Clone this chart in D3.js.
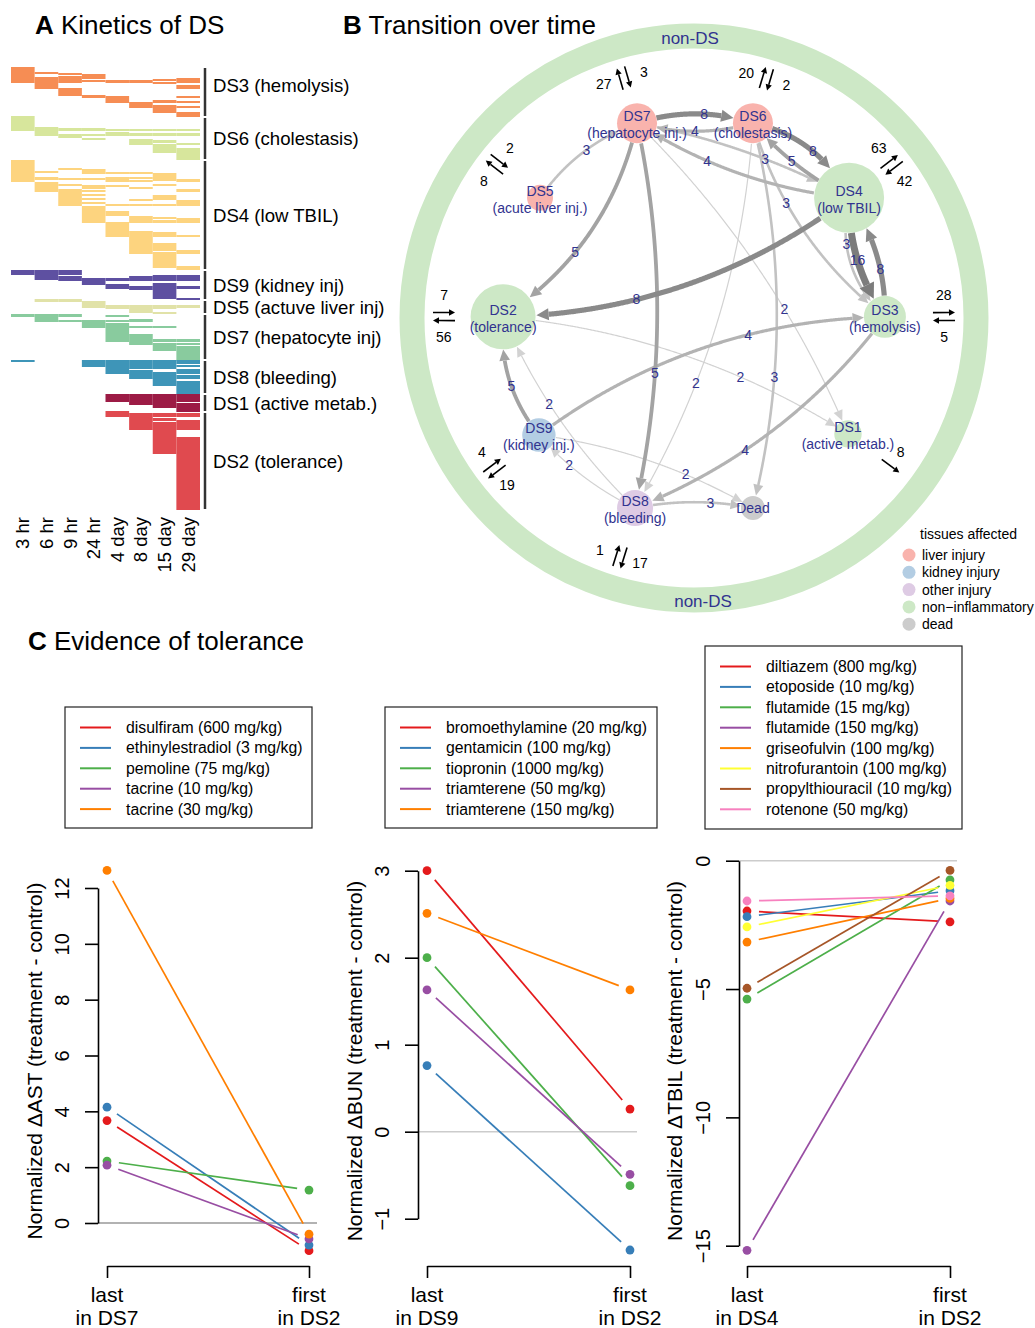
<!DOCTYPE html>
<html>
<head>
<meta charset="utf-8">
<script src="https://cdn.jsdelivr.net/npm/d3@7"></script>
<style>
  body { margin: 0; background: #fff; }
  svg { display: block; font-family: "Liberation Sans", Arial, Helvetica, sans-serif; }
</style>
</head>
<body>
<svg id="fig" width="1035" height="1328"></svg>
<script>
// ---------- A: kinetics of DS ----------
const timePoints = ["3 hr", "6 hr", "9 hr", "24 hr", "4 day", "8 day", "15 day", "29 day"];
const dsGroups = ["DS3", "DS6", "DS4", "DS9", "DS5", "DS7", "DS8", "DS1", "DS2"];
const dsGroupLabels = ["DS3 (hemolysis)", "DS6 (cholestasis)", "DS4 (low TBIL)", "DS9 (kidney inj)",
  "DS5 (actuve liver inj)", "DS7 (hepatocyte inj)", "DS8 (bleeding)", "DS1 (active metab.)", "DS2 (tolerance)"];
const dsGroupRows = [[0, 50], [50, 93], [93, 203], [203, 233], [233, 247], [247, 293], [293, 327], [327, 345], [345, 443]];
const dsColors = ["#f68d54", "#d7e69c", "#fdd47f", "#5e50a1", "#e1e2a8", "#89cb9e", "#3e95b8", "#9c1b45", "#e04a4f"];

// [time index, first row, last row] of the treatments sitting in each state
const cellsDS3 = [[0,0,16],[1,5,7],[1,10,22],[2,6,8],[2,9,16],[2,21,29],[3,7,12],[3,13,15],[3,28,31],[4,13,16],[4,29,36],
  [5,13,16],[5,35,41],[6,12,14],[6,15,17],[6,33,36],[6,38,46],[7,11,16],[7,18,22],[7,29,31],[7,34,36],[7,39,41],[7,45,50]];
const cellsDS6 = [[0,49,64],[1,60,69],[2,61,64],[2,67,71],[3,61,64],[3,67,69],[3,71,73],[4,62,64],[4,65,69],[5,62,64],[5,66,69],
  [5,72,78],[6,62,64],[6,66,69],[6,73,76],[6,77,86],[7,62,64],[7,66,69],[7,76,78],[7,81,93]];
const cellsDS4 = [[0,93,115],[1,104,106],[1,110,113],[1,115,125],[2,101,103],[2,111,113],[2,117,119],[2,122,139],
  [3,102,107],[3,111,113],[3,118,122],[3,123,125],[3,127,129],[3,131,133],[3,135,137],[3,139,156],
  [4,105,107],[4,110,115],[4,118,120],[4,137,139],[4,144,149],[4,155,170],
  [5,105,107],[5,110,112],[5,113,115],[5,120,122],[5,132,134],[5,137,139],[5,149,156],[5,164,187],
  [6,106,114],[6,117,119],[6,128,133],[6,137,139],[6,150,152],[6,153,156],[6,165,170],[6,176,184],[6,185,201],
  [7,112,115],[7,122,125],[7,133,139],[7,151,156],[7,168,170],[7,183,187],[7,199,203]];
const cellsDS9 = [[0,203,208],[1,203,213],[2,203,208],[2,209,214],[3,211,218],[4,211,214],[4,217,222],[5,209,214],
  [5,219,223],[6,208,214],[6,216,232],[7,208,214],[7,219,222],[7,231,233]];
const cellsDS5 = [[1,232,235],[2,232,235],[3,234,241],[4,238,242],[5,238,242],[5,242,246],[6,238,242],[6,245,247],[7,238,241]];
const cellsDS7 = [[0,247,250],[1,247,255],[2,247,250],[2,253,255],[3,253,261],[4,248,250],[4,253,255],[4,256,275],
  [5,252,255],[5,259,261],[5,267,278],[6,259,261],[6,272,275],[6,276,284],[7,272,275],[7,276,278],[7,279,294]];
const cellsDS8 = [[0,293,295],[3,293,300],[4,293,307],[5,293,302],[5,303,312],[6,293,302],[6,305,319],
  [7,293,297],[7,298,300],[7,302,307],[7,308,312],[7,314,328]];
const cellsDS1 = [[4,327,335],[5,327,338],[6,327,341],[7,327,335],[7,336,345]];
const cellsDS2 = [[4,344,350],[5,346,363],[6,346,350],[6,351,354],[6,355,387],[7,346,350],[7,353,363],[7,370,443]];

// ---------- B: transition network ----------
const nodeNames = ["DS7", "DS6", "DS5", "DS4", "DS2", "DS3", "DS9", "DS1", "DS8", "Dead"];
const nodeSubtitles = ["(hepatocyte inj.)", "(cholestasis)", "(acute liver inj.)", "(low TBIL)", "(tolerance)",
  "(hemolysis)", "(kidney inj.)", "(active metab.)", "(bleeding)", ""];
const nodeTissue = [0, 0, 0, 3, 3, 3, 1, 3, 2, 4];
const nodeX = [-0.202, 0.209, -0.546, 0.55, -0.677, 0.677, -0.55, 0.546, -0.209, 0.209];
const nodeY = [-0.691, -0.691, -0.426, -0.426, -0.004, -0.004, 0.415, 0.411, 0.674, 0.674];
const nodeSize = [20, 20, 13, 35, 32.5, 21, 16.7, 13.7, 18, 12];

const transitions = [
  ["DS7", "DS6", 8], ["DS6", "DS7", 4], ["DS4", "DS7", 4], ["DS7", "DS4", 3],
  ["DS6", "DS4", 8], ["DS4", "DS6", 5], ["DS6", "DS3", 3], ["DS4", "DS3", 16],
  ["DS3", "DS4", 8], ["DS4", "DS3", 3], ["DS5", "DS7", 3], ["DS7", "DS2", 5],
  ["DS4", "DS2", 8], ["DS7", "DS8", 5], ["DS7", "DS1", 2], ["DS6", "DS8", 2],
  ["DS6", "Dead", 3], ["DS2", "DS1", 2], ["DS9", "DS3", 4], ["DS3", "DS8", 4],
  ["DS9", "DS2", 5], ["DS8", "DS2", 2], ["DS8", "DS9", 2], ["DS9", "Dead", 2], ["DS8", "Dead", 3]
];
const edgeBend = [-0.08, -0.07, -0.06, -0.04, -0.12, -0.05, 0.08, 0.08, 0.08, 0.14, -0.08, -0.1,
  -0.08, -0.055, -0.05, -0.06, -0.062, -0.06, -0.08, -0.07, -0.1, -0.05, -0.05, -0.05, -0.05];
const edgeLabelT = [0.58, 0.5, 0.65, 0.59, 0.53, 0.56, 0.36, 0.5, 0.38, 0.35, 0.54, 0.6,
  0.64, 0.65, 0.63, 0.66, 0.66, 0.67, 0.63, 0.61, 0.44, 0.58, 0.65, 0.67, 0.64];

// exchanges with the non-DS ring: out = to non-DS, in = from non-DS
const flowNodes = ["DS7", "DS6", "DS5", "DS4", "DS2", "DS3", "DS9", "DS8", "DS1"];
const flowOut = [27, 20, 8, 63, 56, 28, 19, 17, 8];
const flowIn = [3, 2, 2, 42, 7, 5, 4, 1, null];

const tissueNames = ["liver injury", "kidney injury", "other injury", "non\u2212inflammatory", "dead"];
const tissueColors = ["#f9b3ad", "#b3cde3", "#decbe4", "#cde8c6", "#cccccc"];

// ---------- C: evidence of tolerance ----------
const seriesColors = ["#e41a1c", "#377eb8", "#4daf4a", "#984ea3", "#ff7f00", "#ffff33", "#a65628", "#f781bf"];
const astDrugs = ["disulfiram (600 mg/kg)", "ethinylestradiol (3 mg/kg)", "pemoline (75 mg/kg)", "tacrine (10 mg/kg)", "tacrine (30 mg/kg)"];
const astLast = [3.67, 4.15, 2.22, 2.07, 12.63];
const astFirst = [-0.99, -0.79, 1.18, -0.57, -0.4];
const bunDrugs = ["bromoethylamine (20 mg/kg)", "gentamicin (100 mg/kg)", "tiopronin (1000 mg/kg)", "triamterene (50 mg/kg)", "triamterene (150 mg/kg)"];
const bunLast = [3.0, 0.76, 2.0, 1.63, 2.51];
const bunFirst = [0.26, -1.36, -0.62, -0.49, 1.63];
const tbilDrugs = ["diltiazem (800 mg/kg)", "etoposide (10 mg/kg)", "flutamide (15 mg/kg)", "flutamide (150 mg/kg)",
  "griseofulvin (100 mg/kg)", "nitrofurantoin (100 mg/kg)", "propylthiouracil (10 mg/kg)", "rotenone (50 mg/kg)"];
const tbilLast = [-1.96, -2.18, -5.39, -15.18, -3.17, -2.58, -4.97, -1.57];
const tbilFirst = [-2.38, -1.17, -0.75, -1.57, -1.47, -0.96, -0.38, -1.37];

const svg = d3.select("#fig");
const navy = "#31338f";

function panelTitle(x, y, letter, text) {
  const t = svg.append("text").attr("x", x).attr("y", y).attr("font-size", 26);
  t.append("tspan").attr("font-weight", "bold").text(letter);
  t.append("tspan").text(" " + text);
}
panelTitle(35, 34, "A", "Kinetics of DS");
panelTitle(343, 34, "B", "Transition over time");
panelTitle(28, 650, "C", "Evidence of tolerance");

// ===== panel A =====
const xA = d3.scaleBand().domain(timePoints).range([11, 200]);
const yA = d3.scaleLinear().domain([0, 443]).range([67, 510]);
const cellSets = [cellsDS3, cellsDS6, cellsDS4, cellsDS9, cellsDS5, cellsDS7, cellsDS8, cellsDS1, cellsDS2];

const gA = svg.append("g");
cellSets.forEach((cells, gi) => {
  gA.append("g").selectAll("rect").data(cells).join("rect")
    .attr("x", d => xA(timePoints[d[0]]))
    .attr("y", d => yA(d[1]))
    .attr("width", xA.bandwidth())
    .attr("height", d => yA(d[2]) - yA(d[1]))
    .attr("fill", dsColors[gi]);
});

gA.append("g").selectAll("line").data(dsGroupRows).join("line")
  .attr("x1", 205).attr("x2", 205)
  .attr("y1", d => yA(d[0]) + 1).attr("y2", d => yA(d[1]) - 1)
  .attr("stroke", "#333").attr("stroke-width", 2.5);

gA.append("g").selectAll("text").data(dsGroupLabels).join("text")
  .attr("x", 213)
  .attr("y", (d, i) => i === 0 ? 85 : (yA(dsGroupRows[i][0]) + yA(dsGroupRows[i][1])) / 2)
  .attr("dy", "0.35em").attr("font-size", 18.6).text(d => d);

gA.append("g").selectAll("text").data(timePoints).join("text")
  .attr("transform", d => `translate(${xA(d) + xA.bandwidth() / 2},517) rotate(-90)`)
  .attr("dy", "0.35em").attr("text-anchor", "end").attr("font-size", 18.5).text(d => d);

// ===== panel B =====
const bx = d3.scaleLinear().domain([-1, 1]).range([412, 976]);
const by = d3.scaleLinear().domain([-1, 1]).range([36, 600]);
const ringR = bx(1) - bx(0);
const cx0 = bx(0), cy0 = by(0);

const gB = svg.append("g");
gB.append("circle").attr("cx", cx0).attr("cy", cy0).attr("r", ringR)
  .attr("fill", "none").attr("stroke", tissueColors[3]).attr("stroke-width", 25);
gB.append("text").attr("x", 690).attr("y", 38).attr("dy", "0.35em").attr("text-anchor", "middle")
  .attr("font-size", 17).attr("fill", navy).text("non-DS");
gB.append("text").attr("x", 703).attr("y", 601).attr("dy", "0.35em").attr("text-anchor", "middle")
  .attr("font-size", 17).attr("fill", navy).text("non-DS");

const nodes = nodeNames.map((n, i) => ({
  name: n, sub: nodeSubtitles[i], x: bx(nodeX[i]), y: by(nodeY[i]), r: nodeSize[i], fill: tissueColors[nodeTissue[i]]
}));
const nodeByName = new Map(nodes.map(n => [n.name, n]));

const edgeWidth = d3.scaleLinear().domain([2, 3, 5, 8, 16]).range([1.2, 2.6, 3.8, 5.2, 7]);
const edgeColor = d3.scaleLinear().domain([2, 3, 5, 8, 16]).range(["#d2d2d2", "#c2c2c2", "#a3a3a3", "#8a8a8a", "#7c7c7c"]);

function edgeGeom(s, t, bend, w, lt) {
  const dx = t.x - s.x, dy = t.y - s.y, L = Math.hypot(dx, dy);
  const nx = -dy / L, ny = dx / L;
  const qx = (s.x + t.x) / 2 + 2 * bend * L * nx, qy = (s.y + t.y) / 2 + 2 * bend * L * ny;
  const at = u => [(1 - u) * (1 - u) * s.x + 2 * (1 - u) * u * qx + u * u * t.x,
                   (1 - u) * (1 - u) * s.y + 2 * (1 - u) * u * qy + u * u * t.y];
  const pts = d3.range(0, 401).map(i => at(i / 400));
  let i0 = 0, i1 = pts.length - 1;
  while (i0 < i1 && Math.hypot(pts[i0][0] - s.x, pts[i0][1] - s.y) < s.r) i0++;
  while (i1 > i0 && Math.hypot(pts[i1][0] - t.x, pts[i1][1] - t.y) < t.r) i1--;
  const tip = pts[i1];
  const aLen = 9 + 0.4 * w, aHalf = 4 + 0.25 * w;
  let ib = i1;
  while (ib > i0 && Math.hypot(pts[ib][0] - tip[0], pts[ib][1] - tip[1]) < aLen) ib--;
  const base = pts[ib];
  const ux = (tip[0] - base[0]) / aLen, uy = (tip[1] - base[1]) / aLen;
  const head = [tip, [base[0] - uy * aHalf, base[1] + ux * aHalf], [base[0] + uy * aHalf, base[1] - ux * aHalf]];
  return { line: pts.slice(i0, ib + 1), head, label: at(lt) };
}

const edges = transitions.map((d, i) => {
  const s = nodeByName.get(d[0]), t = nodeByName.get(d[1]);
  return { w: d[2], geom: edgeGeom(s, t, edgeBend[i], d[2], edgeLabelT[i]) };
}).sort((a, b) => a.w - b.w);

const lineGen = d3.line();
const gE = gB.append("g");
edges.forEach(e => {
  gE.append("path").attr("d", lineGen(e.geom.line)).attr("fill", "none")
    .attr("stroke", edgeColor(e.w)).attr("stroke-width", edgeWidth(e.w));
  gE.append("path").attr("d", "M" + e.geom.head.join("L") + "Z").attr("fill", edgeColor(e.w));
});

gB.append("g").selectAll("circle").data(nodes).join("circle")
  .attr("cx", d => d.x).attr("cy", d => d.y).attr("r", d => d.r).attr("fill", d => d.fill);

gB.append("g").selectAll("text").data(edges).join("text")
  .attr("x", d => d.geom.label[0]).attr("y", d => d.geom.label[1])
  .attr("dy", "0.35em").attr("text-anchor", "middle").attr("font-size", 14).attr("fill", navy)
  .text(d => d.w);

const gN = gB.append("g").attr("font-size", 14).attr("fill", navy).attr("text-anchor", "middle");
nodes.forEach(n => {
  if (n.sub) {
    gN.append("text").attr("x", n.x).attr("y", n.y - 7).attr("dy", "0.35em").text(n.name);
    gN.append("text").attr("x", n.x).attr("y", n.y + 10).attr("dy", "0.35em").text(n.sub);
  } else {
    gN.append("text").attr("x", n.x).attr("y", n.y).attr("dy", "0.35em").text(n.name);
  }
});

// small black arrows to / from the ring
const gF = gB.append("g");
function blackArrow(x1, y1, x2, y2) {
  const L = Math.hypot(x2 - x1, y2 - y1), ux = (x2 - x1) / L, uy = (y2 - y1) / L;
  const bxp = x2 - ux * 6, byp = y2 - uy * 6;
  gF.append("line").attr("x1", x1).attr("y1", y1).attr("x2", bxp).attr("y2", byp)
    .attr("stroke", "#000").attr("stroke-width", 1.6);
  gF.append("path").attr("d", `M${x2},${y2}L${bxp - uy * 3.2},${byp + ux * 3.2}L${bxp + uy * 3.2},${byp - ux * 3.2}Z`)
    .attr("fill", "#000");
}
flowNodes.forEach((name, i) => {
  const n = nodeByName.get(name);
  const L = Math.hypot(n.x - cx0, n.y - cy0);
  const ux = (n.x - cx0) / L, uy = (n.y - cy0) / L;
  const px = uy, py = -ux;
  const single = flowIn[i] === null;
  const rr = single ? 246 : 250;
  const mx = cx0 + ux * rr, my = cy0 + uy * rr;
  const off = single ? 0 : 4;
  const ox = mx + px * off, oy = my + py * off;
  blackArrow(ox - ux * 11, oy - uy * 11, ox + ux * 11, oy + uy * 11);
  gF.append("text").attr("x", mx + px * (single ? 17 : 21)).attr("y", my + py * (single ? 17 : 21))
    .attr("dy", "0.35em").attr("text-anchor", "middle").attr("font-size", 14).text(flowOut[i]);
  if (!single) {
    const ix = mx - px * off, iy = my - py * off;
    blackArrow(ix + ux * 11, iy + uy * 11, ix - ux * 11, iy - uy * 11);
    gF.append("text").attr("x", mx - px * 21).attr("y", my - py * 21)
      .attr("dy", "0.35em").attr("text-anchor", "middle").attr("font-size", 14).text(flowIn[i]);
  }
});

// legend for tissues
const gL = gB.append("g").attr("font-size", 14);
gL.append("text").attr("x", 920).attr("y", 534).attr("dy", "0.35em").text("tissues affected");
tissueNames.forEach((t, i) => {
  gL.append("circle").attr("cx", 909).attr("cy", 555 + i * 17.3).attr("r", 6.5).attr("fill", tissueColors[i]);
  gL.append("text").attr("x", 922).attr("y", 555 + i * 17.3).attr("dy", "0.35em").text(t);
});

// ===== panel C =====
function slopePlot(p) {
  const x = d3.scaleLinear().domain([1, 2]).range(p.xr);
  const y = d3.scaleLinear().domain(p.yd).range(p.yr);
  const g = svg.append("g");

  // legend
  const lg = g.append("g").attr("font-size", 15.8);
  lg.append("rect").attr("x", p.box[0]).attr("y", p.box[1]).attr("width", p.box[2]).attr("height", p.box[3])
    .attr("fill", "none").attr("stroke", "#222").attr("stroke-width", 1.2);
  p.names.forEach((nm, i) => {
    const yy = p.box[1] + 20.5 + i * 20.4;
    lg.append("line").attr("x1", p.box[0] + 15).attr("x2", p.box[0] + 46).attr("y1", yy).attr("y2", yy)
      .attr("stroke", seriesColors[i]).attr("stroke-width", 2);
    lg.append("text").attr("x", p.box[0] + 61).attr("y", yy).attr("dy", "0.35em").text(nm);
  });

  g.append("line").attr("x1", p.ax).attr("x2", p.zr).attr("y1", y(0)).attr("y2", y(0))
    .attr("stroke", p.zc).attr("stroke-width", 1.5);

  const ya = g.append("g").attr("transform", `translate(${p.ax},0)`)
    .call(d3.axisLeft(y).tickValues(p.ticks).tickFormat(d3.format("d")).tickSize(13).tickSizeOuter(0));
  ya.select(".domain").attr("stroke", "#000").attr("stroke-width", 1.6);
  ya.selectAll(".tick line").attr("stroke", "#000").attr("stroke-width", 1.6);
  ya.selectAll(".tick text").attr("x", 0).attr("dy", "0.35em").attr("text-anchor", "middle")
    .attr("transform", "translate(-36,0) rotate(-90)")
    .attr("font-size", 20).attr("font-family", "Liberation Sans, Arial, sans-serif").attr("fill", "#000");

  const xa = g.append("g").attr("transform", "translate(0,1266)")
    .call(d3.axisBottom(x).tickValues([1, 2]).tickSize(12).tickSizeOuter(0).tickFormat(""));
  xa.select(".domain").attr("stroke", "#000").attr("stroke-width", 1.6);
  xa.selectAll(".tick line").attr("stroke", "#000").attr("stroke-width", 1.6);

  const xl = [["last", "in " + p.from], ["first", "in DS2"]];
  xl.forEach((lines, k) => {
    lines.forEach((s, j) => {
      g.append("text").attr("x", x(k + 1)).attr("y", 1302 + j * 23).attr("text-anchor", "middle")
        .attr("font-size", 21).text(s);
    });
  });

  g.append("text").attr("transform", `translate(${p.lx},1061) rotate(-90)`).attr("dy", "0.35em")
    .attr("text-anchor", "middle").attr("font-size", 21).text(p.label);

  const segs = p.last.map((v, i) => {
    const x0 = x(1), y0 = y(v), x1 = x(2), y1 = y(p.first[i]);
    const L = Math.hypot(x1 - x0, y1 - y0), ux = (x1 - x0) / L, uy = (y1 - y0) / L;
    return { i, x0: x0 + ux * 12, y0: y0 + uy * 12, x1: x1 - ux * 12, y1: y1 - uy * 12 };
  });
  g.append("g").selectAll("line").data(segs).join("line")
    .attr("x1", d => d.x0).attr("y1", d => d.y0).attr("x2", d => d.x1).attr("y2", d => d.y1)
    .attr("stroke", d => seriesColors[d.i]).attr("stroke-width", 1.7);

  const pts = p.last.flatMap((v, i) => [{ i, x: 1, v }, { i, x: 2, v: p.first[i] }]);
  g.append("g").selectAll("circle").data(pts).join("circle")
    .attr("cx", d => x(d.x)).attr("cy", d => y(d.v)).attr("r", 4.4)
    .attr("fill", d => seriesColors[d.i]);
}

slopePlot({ names: astDrugs, last: astLast, first: astFirst, from: "DS7",
  xr: [107, 309], yd: [0, 12], yr: [1223, 888], ticks: [0, 2, 4, 6, 8, 10, 12],
  ax: 98, zr: 317, zc: "#999", lx: 35, label: "Normalized \u0394AST (treatment - control)",
  box: [65, 707, 247, 121] });
slopePlot({ names: bunDrugs, last: bunLast, first: bunFirst, from: "DS9",
  xr: [427, 630], yd: [-1, 3], yr: [1218.7, 870.7], ticks: [-1, 0, 1, 2, 3],
  ax: 418, zr: 637, zc: "#ccc", lx: 355, label: "Normalized \u0394BUN (treatment - control)",
  box: [385, 707, 272, 121] });
slopePlot({ names: tbilDrugs, last: tbilLast, first: tbilFirst, from: "DS4",
  xr: [747, 950], yd: [-15, 0], yr: [1245.7, 860.7], ticks: [-15, -10, -5, 0],
  ax: 739, zr: 957, zc: "#ccc", lx: 675, label: "Normalized \u0394TBIL (treatment - control)",
  box: [705, 646, 257, 183] });
</script>
</body>
</html>
